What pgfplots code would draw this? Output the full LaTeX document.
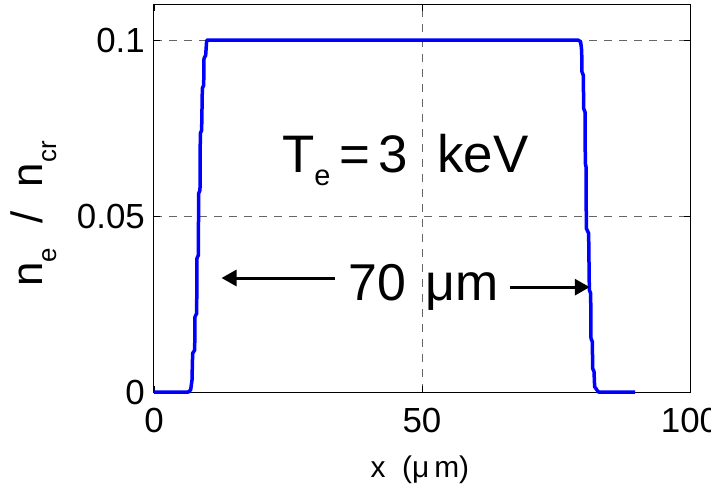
\documentclass[border=0pt]{standalone}
\usepackage{fontspec}
\setmainfont{Liberation Sans}
\usepackage{pgfplots}
\pgfplotsset{compat=1.18}
\usetikzlibrary{arrows.meta}
% lowered subscript: shift, size, text
\newcommand{\lowsub}[3]{\raisebox{#1}{\fontsize{#2}{#2}\selectfont #3}}

\begin{document}
\begin{tikzpicture}
\begin{axis}[
    width=536bp, height=387bp, scale only axis,
    xmin=0, xmax=100, ymin=0, ymax=0.11,
    xtick={0,50,100}, xticklabels={0,50,100},
    ytick={0,0.05,0.1}, yticklabels={0,0.05,0.1},
    /pgf/number format/assume math mode=true,
    tick align=inside, major tick length=6bp,
    every tick/.style={black, line width=0.8bp},
    axis line style={black, line width=1bp},
    grid=major,
    major grid style={black!60, line width=1bp, dash pattern=on 8bp off 7bp},
    ticklabel style={font=\fontsize{35}{40}\selectfont},
    yticklabel style={inner sep=0pt, xshift=-9bp},
    xticklabel style={inner sep=0pt, yshift=-16bp},
    xlabel={x~~(μ\,m)},
    xlabel style={font=\fontsize{30}{34}\selectfont, at={(axis description cs:0.496,-0.20)}, anchor=center},
    ylabel={n\lowsub{-14bp}{26}{e}\ \ /\ \ n\lowsub{-14bp}{26}{cr}},
    ylabel style={font=\fontsize{44}{48}\selectfont, at={(axis description cs:-0.225,0.46)}, anchor=center},
    clip=false,
]
% density profile
\addplot[blue, line width=3.5bp, line join=round] coordinates {
(0,0) (6.41,0) (6.84,0.0006) (7.09,0.0034) (7.21,0.0110) (7.59,0.0119)
(7.65,0.0214) (7.96,0.0223) (8.02,0.0380) (8.27,0.0389) (8.33,0.0564)
(8.58,0.0574) (8.64,0.0735) (8.89,0.0744) (9.02,0.0863) (9.27,0.0872)
(9.33,0.0948) (9.64,0.0957) (9.83,0.1)
(79.17,0.1) (79.60,0.0995) (79.79,0.0971) (79.85,0.0910) (80.10,0.0900)
(80.16,0.0806) (80.41,0.0796) (80.47,0.0650) (80.60,0.0640) (80.66,0.0465)
(81.09,0.0451) (81.22,0.0290) (81.47,0.0280) (81.53,0.0152) (81.78,0.0143)
(81.84,0.0067) (82.09,0.0058) (82.21,0.0015) (82.90,0) (89.74,0)
};
% 70 um width arrows
\addplot[black, line width=3bp, -{Triangle[length=15bp,width=16bp]}] coordinates {(33.8,0.0324) (12.6,0.0324)};
\addplot[black, line width=3bp, -{Triangle[length=15bp,width=16bp]}] coordinates {(66.4,0.0298) (81.3,0.0298)};
\node[anchor=base, font=\fontsize{52}{60}\selectfont] at (axis cs:50.3,0.0259) {70\hspace{20bp}μm};
\node[anchor=base, font=\fontsize{53}{60}\selectfont] at (axis cs:46.9,0.0625) {T\lowsub{-13bp}{29}{e}\,=\,3\ \ keV};
\end{axis}
\pgfresetboundingbox
\path[use as bounding box] ([xshift=-154bp,yshift=-94bp]current axis.south west) rectangle ([xshift=21bp,yshift=5bp]current axis.north east);
\end{tikzpicture}
\end{document}
